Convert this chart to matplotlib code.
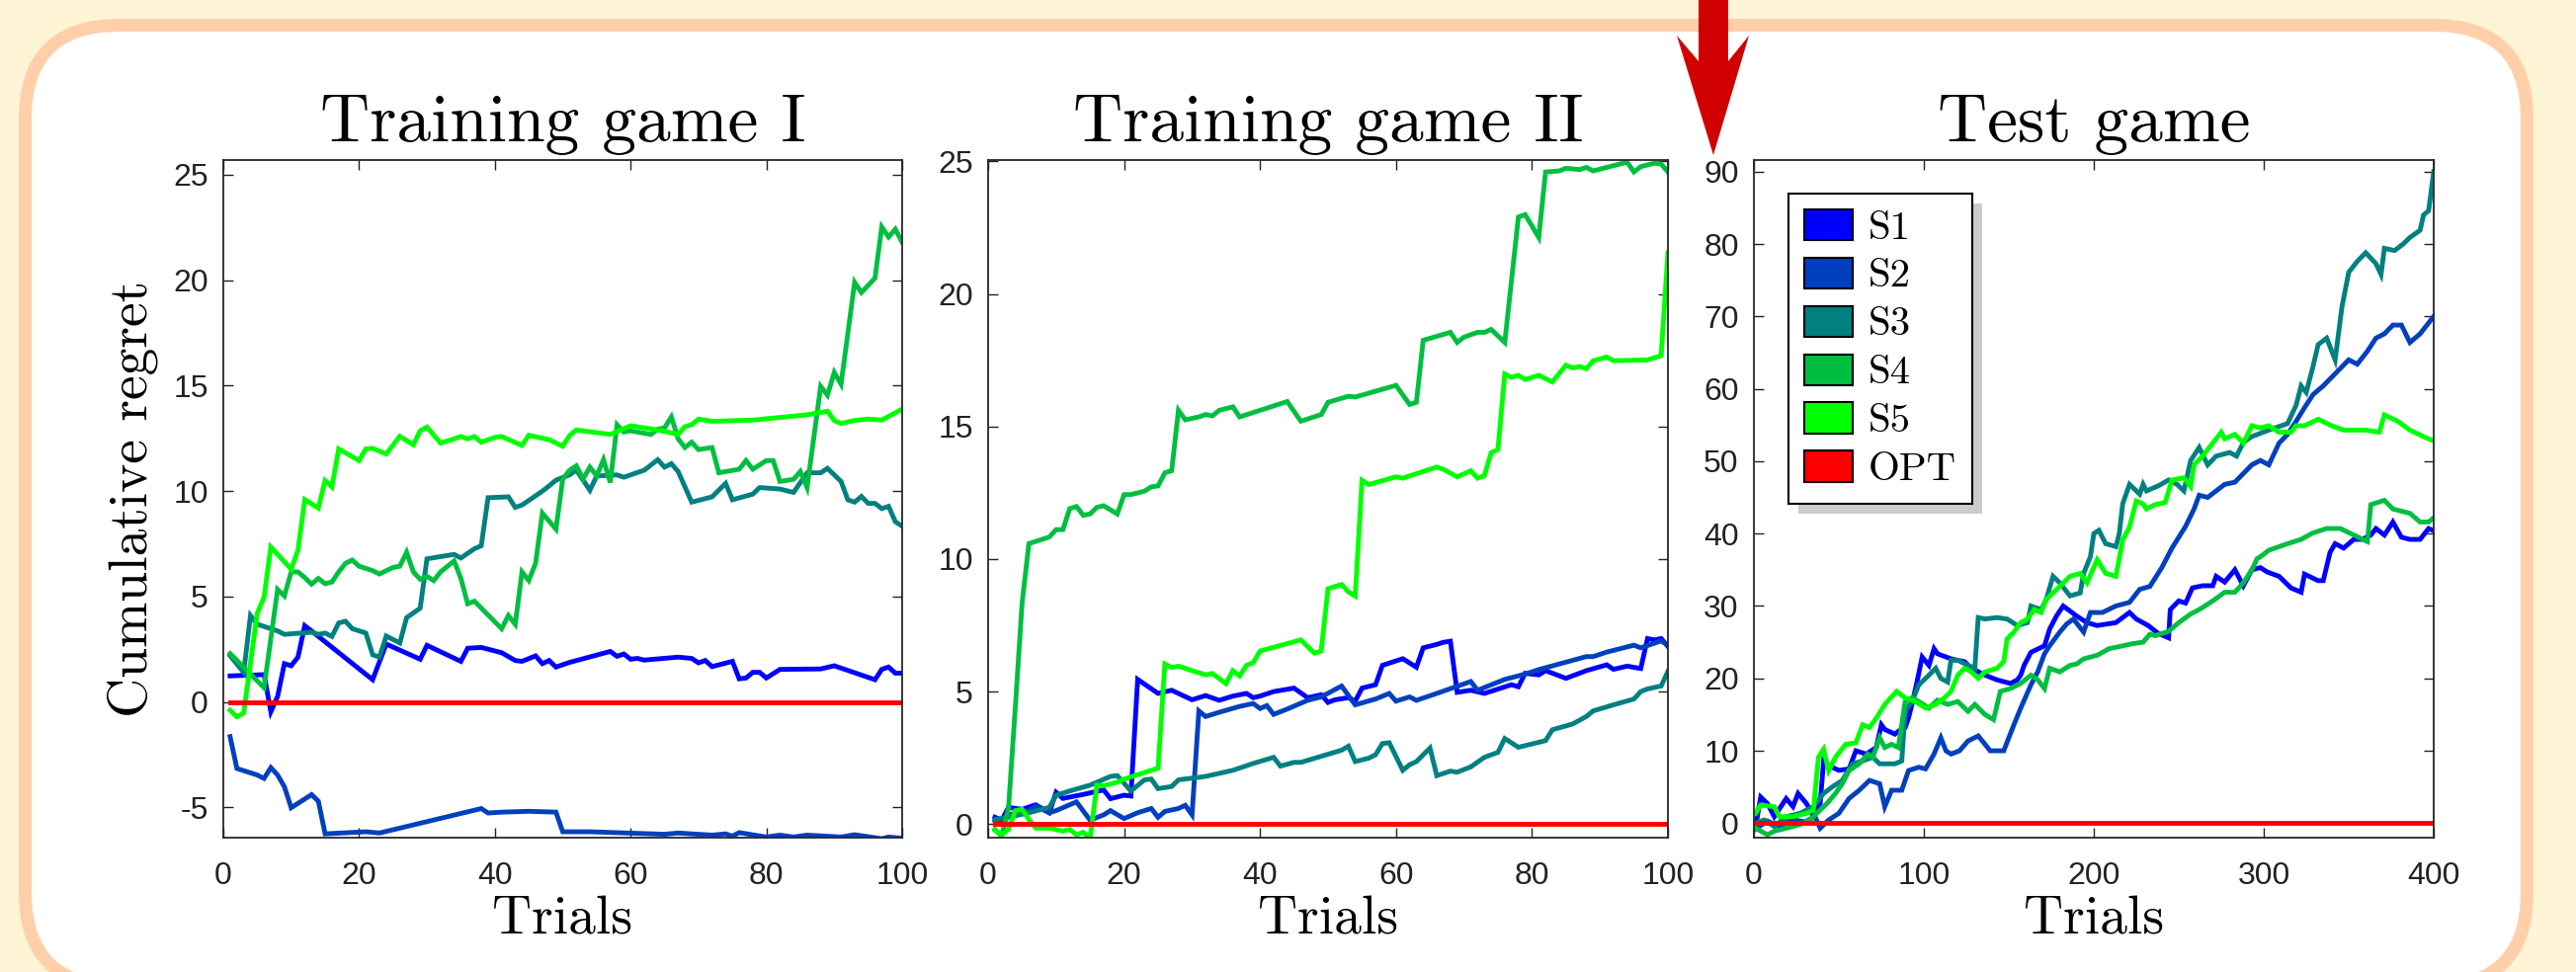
import matplotlib
matplotlib.use('Agg')
import matplotlib.pyplot as plt
from matplotlib.patches import FancyBboxPatch, Polygon, Rectangle, Patch
from matplotlib.transforms import IdentityTransform

# ---------------- data ----------------
names = ['S1', 'S2', 'S3', 'S4', 'S5', 'OPT']
colors = ['#0000FF', '#0040BF', '#008080', '#00BF40', '#00FF00', '#FF0000']

# Training game I
g1_s1_t = [1, 6, 7, 8, 9, 10, 11, 12, 13, 22, 24, 29, 30, 35, 36, 38, 41, 43, 44, 46, 47, 48, 49, 51, 57, 58, 59, 60,
           61, 62, 67, 69, 70, 71, 72, 75, 76, 77, 78, 79, 80, 82, 88, 90, 96, 97, 98, 99, 100]
g1_s1_v = [1.24, 1.30, -0.46, 0.27, 1.82, 1.72, 2.13, 3.62, 3.37, 1.06, 2.75, 2.03, 2.69, 1.93, 2.55, 2.59, 2.34, 1.97,
           1.93, 2.19, 1.82, 1.97, 1.66, 1.88, 2.40, 2.17, 2.28, 2.03, 2.07, 1.99, 2.13, 2.07, 1.86, 1.97, 1.68, 1.93,
           1.10, 1.14, 1.41, 1.41, 1.14, 1.55, 1.57, 1.72, 1.06, 1.55, 1.66, 1.37, 1.37]
g1_s2_t = [1, 2, 5, 6, 7, 8, 9, 10, 13, 14, 15, 21, 23, 38, 39, 41, 45, 49, 50, 54, 65, 67, 72, 74, 75, 76, 80, 82, 84,
           86, 91, 93, 97, 98, 100]
g1_s2_v = [-1.64, -3.15, -3.46, -3.62, -3.11, -3.46, -4.02, -5.01, -4.39, -4.70, -6.25, -6.15, -6.21, -5.05, -5.26,
           -5.22, -5.18, -5.22, -6.15, -6.15, -6.27, -6.21, -6.31, -6.25, -6.36, -6.19, -6.40, -6.31, -6.40, -6.31,
           -6.40, -6.29, -6.48, -6.40, -6.46]
g1_s3_t = [1, 2, 3, 4, 5, 8, 9, 13, 14, 15, 16, 17, 18, 19, 21, 22, 23, 24, 26, 27, 29, 30, 34, 35, 37, 38, 39, 42, 43,
           44, 47, 48, 49, 51, 52, 54, 55, 58, 59, 62, 64, 65, 66, 67, 69, 72, 74, 75, 78, 79, 82, 84, 86, 88, 89, 91,
           92, 93, 94, 95, 96, 97, 98, 99, 100]
g1_s3_v = [2.2, 1.8, 1.4, 4.10, 3.69, 3.37, 3.21, 3.31, 3.21, 3.27, 3.11, 3.75, 3.83, 3.48, 3.27, 2.24, 2.13, 3.13,
           2.80, 4.0, 4.45, 6.79, 7.0, 6.83, 7.27, 7.41, 9.69, 9.73, 9.23, 9.34, 10.0, 10.25, 10.52, 10.77, 11.0,
           10.04, 10.72, 10.77, 10.66, 10.99, 11.49, 11.14, 11.30, 10.93, 9.48, 9.73, 10.37, 9.59, 9.86, 10.17, 10.10,
           9.94, 10.87, 10.87, 11.08, 10.46, 9.59, 9.48, 9.75, 9.42, 9.42, 9.17, 9.28, 8.55, 8.34]
g1_s4_t = [1, 6, 8, 9, 10, 11, 12, 13, 14, 15, 16, 17, 18, 19, 20, 22, 23, 24, 25, 26, 27, 28, 29, 30, 31, 32, 34, 35,
           36, 37, 41, 42, 43, 44, 45, 46, 47, 49, 50, 51, 52, 53, 54, 55, 56, 57, 58, 59, 60, 63, 64, 65, 66, 67, 68,
           69, 70, 72, 73, 76, 77, 78, 80, 81, 82, 84, 85, 86, 88, 89, 90, 91, 93, 94, 96, 97, 98, 99, 100]
g1_s4_v = [2.30, 0.68, 5.34, 5.03, 6.17, 6.17, 5.90, 5.59, 5.86, 5.61, 5.69, 6.17, 6.58, 6.73, 6.44, 6.23, 6.07, 6.23,
           6.38, 6.44, 7.10, 6.17, 5.82, 5.96, 5.76, 6.17, 6.69, 5.86, 4.66, 4.78, 3.48, 4.10, 3.69, 6.17, 5.76, 6.58,
           8.96, 8.20, 10.56, 10.99, 11.20, 10.58, 11.14, 10.72, 11.49, 10.41, 13.15, 12.80, 12.86, 12.69, 12.94, 13.0,
           13.52, 12.48, 12.07, 12.32, 11.97, 12.07, 10.87, 11.04, 11.45, 11.04, 11.45, 11.45, 10.46, 10.56, 10.93,
           10.17, 14.97, 14.55, 15.63, 15.07, 19.90, 19.42, 20.10, 22.53, 22.05, 22.42, 21.80]
g1_s5_t = [1, 2, 3, 5, 6, 7, 10, 11, 12, 14, 15, 16, 17, 20, 21, 22, 24, 26, 28, 29, 30, 32, 34, 35, 36, 37, 38, 40,
           41, 44, 45, 48, 50, 51, 52, 57, 60, 64, 67, 68, 69, 70, 72, 78, 86, 88, 89, 90, 91, 93, 95, 97, 100]
g1_s5_v = [-0.39, -0.70, -0.52, 4.2, 4.97, 7.35, 6.3, 7.2, 9.6, 9.2, 10.5, 10.2, 12.0, 11.45, 12.0, 12.03, 11.76, 12.6,
           12.2, 12.86, 13.04, 12.28, 12.48, 12.59, 12.48, 12.59, 12.32, 12.55, 12.59, 12.17, 12.65, 12.44, 12.13,
           12.63, 12.9, 12.69, 13.1, 12.9, 12.69, 13.06, 13.15, 13.42, 13.31, 13.37, 13.62, 13.73, 13.79, 13.35, 13.21,
           13.35, 13.42, 13.37, 13.89]
g1_opt_t = [1, 100]
g1_opt_v = [0, 0]

# Training game II
g2_s1_t = [1, 2, 3, 5, 7, 9, 10, 11, 14, 17, 18, 20, 21, 22, 25, 27, 30, 32, 34, 36, 38, 39, 40, 42, 45, 47, 49, 50,
           51, 53, 54, 55, 57, 58, 61, 63, 64, 66, 67, 68, 69, 71, 73, 77, 78, 79, 81, 82, 85, 88, 91, 92, 94, 96, 97,
           98, 99, 100]
g2_s1_v = [0.26, 0.15, 0.63, 0.56, 0.73, 0.43, 1.20, 0.97, 1.12, 1.29, 0.96, 1.09, 1.06, 5.46, 4.93, 5.05, 4.69, 4.85,
           4.67, 4.83, 4.93, 4.77, 4.83, 5.0, 5.13, 4.77, 4.88, 4.59, 4.69, 4.77, 4.64, 5.13, 5.26, 5.99, 6.24, 5.92,
           6.65, 6.78, 6.86, 6.90, 4.97, 5.05, 4.93, 5.26, 5.18, 5.69, 5.63, 5.79, 5.50, 5.79, 6.01, 5.84, 5.96, 5.87,
           7.0, 6.95, 7.0, 6.70]
g2_s2_t = [1, 2, 3, 6, 7, 9, 10, 13, 15, 17, 18, 20, 22, 24, 25, 26, 28, 29, 30, 31, 32, 34, 37, 39, 40, 41, 42, 44,
           47, 49, 52, 54, 57, 59, 60, 62, 63, 66, 71, 72, 76, 79, 81, 88, 89, 91, 95, 96, 99, 100]
g2_s2_v = [0.10, 0.18, 0.35, 0.51, 0.68, 0.43, 0.51, 0.84, 0.15, 0.35, 0.51, 0.21, 0.43, 0.59, 0.26, 0.48, 0.59, 0.71,
           0.35, 4.27, 4.06, 4.22, 4.44, 4.55, 4.36, 4.47, 4.14, 4.34, 4.67, 4.80, 5.21, 4.50, 4.72, 4.93, 4.64, 4.80,
           4.67, 4.93, 5.38, 5.05, 5.46, 5.66, 5.83, 6.32, 6.32, 6.49, 6.75, 6.65, 6.91, 6.75]
g2_s3_t = [1, 3, 6, 9, 10, 12, 15, 18, 19, 21, 23, 24, 25, 27, 28, 32, 36, 39, 42, 43, 45, 46, 52, 53, 54, 56, 57, 58,
           59, 61, 62, 63, 65, 66, 68, 69, 71, 73, 75, 76, 78, 82, 83, 86, 88, 89, 92, 95, 96, 97, 99, 100]
g2_s3_v = [0.18, 0.26, 0.43, 0.63, 1.09, 1.25, 1.47, 1.80, 1.83, 1.25, 1.67, 1.70, 1.34, 1.42, 1.67, 1.80, 2.03, 2.29,
           2.52, 2.19, 2.33, 2.33, 2.79, 2.94, 2.36, 2.49, 2.62, 3.04, 3.07, 2.03, 2.24, 2.36, 2.87, 1.83, 2.0, 1.96,
           2.16, 2.52, 2.71, 3.23, 2.90, 3.15, 3.56, 3.78, 4.06, 4.27, 4.50, 4.72, 5.0, 5.10, 5.21, 5.76]
g2_s4_t = [1, 2, 3, 4, 5, 6, 9, 10, 11, 12, 13, 14, 15, 16, 17, 19, 20, 21, 23, 24, 25, 26, 27, 28, 29, 31, 32, 33,
           34, 36, 37, 44, 46, 49, 50, 53, 54, 60, 62, 63, 64, 68, 69, 70, 72, 73, 74, 76, 78, 79, 81, 82, 84, 85, 87,
           88, 89, 94, 95, 96, 98, 99, 100]
g2_s4_v = [-0.2, -0.45, 0.6, 4.4, 8.35, 10.58, 10.83, 11.11, 11.11, 11.90, 11.98, 11.65, 11.70, 11.95, 12.01, 11.70,
           12.43, 12.43, 12.56, 12.72, 12.76, 13.25, 13.33, 15.61, 15.25, 15.36, 15.45, 15.40, 15.61, 15.74, 15.36,
           15.94, 15.20, 15.45, 15.91, 16.14, 16.11, 16.55, 15.83, 15.91, 18.25, 18.55, 18.17, 18.37, 18.55, 18.55,
           18.66, 18.17, 22.90, 22.99, 22.13, 24.60, 24.64, 24.74, 24.69, 24.77, 24.64, 24.97, 24.60, 24.80, 24.93,
           24.90, 24.60]
g2_s5_t = [1, 2, 3, 4, 5, 6, 7, 9, 11, 12, 13, 14, 15, 16, 17, 19, 20, 25, 26, 27, 28, 30, 32, 33, 35, 36, 37, 38, 39,
           40, 46, 48, 49, 50, 52, 53, 54, 55, 56, 60, 61, 66, 67, 69, 71, 72, 73, 74, 75, 76, 77, 78, 79, 81, 83, 85,
           86, 87, 88, 89, 91, 92, 97, 99, 100]
g2_s5_v = [-0.23, -0.40, -0.2, 0.51, 0.56, 0.18, -0.15, -0.15, -0.26, -0.20, -0.40, -0.31, -0.53, 1.47, 1.45, 1.58,
           1.70, 2.11, 6.04, 5.91, 5.96, 5.79, 5.63, 5.68, 5.30, 5.79, 5.59, 5.99, 6.09, 6.53, 6.95, 6.45, 6.53, 8.88,
           9.04, 8.76, 8.60, 12.97, 12.81, 13.10, 13.05, 13.47, 13.38, 13.10, 13.33, 13.05, 13.14, 14.01, 14.13, 16.98,
           16.85, 16.93, 16.77, 16.93, 16.68, 17.31, 17.21, 17.26, 17.18, 17.48, 17.62, 17.48, 17.51, 17.67, 21.55]
g2_opt_t = [1, 100]
g2_opt_v = [0, 0]

# Test game
g3_s1_t = [1, 4, 8, 12, 19, 23, 26, 31, 34, 39, 41, 44, 50, 56, 60, 66, 72, 75, 77, 83, 85, 89, 91, 93, 96, 99, 103,
           106, 108, 116, 124, 128, 136, 143, 151, 155, 157, 159, 163, 171, 174, 178, 182, 190, 196, 202, 213, 221,
           225, 232, 238, 244, 245, 250, 254, 258, 264, 270, 272, 277, 283, 288, 293, 298, 302, 309, 316, 322, 324,
           332, 335, 339, 342, 347, 353, 358, 363, 366, 371, 376, 381, 386, 392, 397, 400]
g3_s1_v = [-0.5, 3.6, 2.7, 0.9, 3.4, 2.3, 4.1, 2.7, 1.4, 2.7, 8.6, 7.95, 7.3, 7.5, 10.0, 9.55, 10.45, 13.6, 12.95,
           12.3, 12.7, 13.2, 14.55, 16.4, 19.55, 22.95, 21.8, 24.1, 23.4, 22.7, 22.3, 21.4, 20.45, 19.8, 19.3, 19.8,
           20.45, 21.8, 23.6, 24.5, 26.8, 28.6, 30.0, 28.6, 27.7, 27.3, 27.7, 29.1, 28.2, 27.3, 26.2, 25.6, 29.5, 30.7,
           30.4, 32.5, 32.8, 32.8, 34.1, 33.3, 35.0, 32.8, 35.0, 35.3, 34.7, 34.1, 32.5, 31.9, 34.4, 33.5, 33.5, 37.4,
           38.6, 38.0, 39.2, 39.2, 39.8, 40.7, 39.8, 41.6, 39.5, 39.2, 39.2, 40.7, 40.4]
g3_s2_t = [1, 8, 15, 22, 30, 36, 39, 44, 50, 56, 62, 68, 74, 77, 81, 87, 91, 97, 101, 106, 110, 113, 116, 121, 126,
           132, 136, 139, 147, 153, 157, 163, 167, 171, 174, 180, 184, 188, 194, 198, 205, 213, 221, 227, 233, 240,
           246, 254, 259, 262, 267, 272, 277, 283, 288, 293, 298, 303, 309, 314, 319, 324, 329, 335, 340, 345, 350,
           355, 361, 366, 371, 376, 381, 386, 392, 400]
g3_s2_v = [-0.8, 0.3, -0.5, 0.5, 0.2, 0.9, -0.7, 0.45, 1.36, 3.41, 4.55, 5.91, 5.45, 2.27, 4.55, 4.55, 7.27, 7.73, 7.5,
           9.55, 11.8, 10.0, 9.55, 10.0, 11.36, 12.05, 10.9, 10.0, 10.0, 13.6, 15.9, 19.1, 20.9, 23.4, 24.5, 26.4,
           27.5, 28.2, 26.4, 29.1, 29.1, 30.0, 30.5, 32.3, 32.7, 35.3, 38.0, 41.0, 43.4, 45.3, 45.0, 45.9, 46.8, 47.1,
           48.3, 49.5, 50.1, 49.5, 52.5, 53.7, 55.5, 57.4, 59.2, 60.4, 61.6, 62.8, 64.0, 63.4, 65.2, 67.0, 67.6, 68.8,
           68.8, 66.4, 67.6, 70.0]
g3_s3_t = [1, 6, 12, 19, 27, 35, 41, 46, 52, 58, 64, 70, 74, 77, 83, 87, 89, 93, 97, 103, 107, 110, 114, 116, 120,
           126, 130, 132, 136, 143, 149, 155, 161, 163, 169, 172, 176, 180, 186, 192, 194, 198, 200, 203, 207, 213,
           215, 217, 221, 227, 229, 231, 238, 244, 249, 253, 257, 262, 267, 272, 280, 284, 288, 293, 303, 314, 319,
           322, 325, 329, 332, 337, 342, 346, 350, 355, 360, 366, 369, 371, 377, 382, 386, 392, 394, 397, 400]
g3_s3_v = [0.0, 0.45, -0.45, 0.9, 1.36, 2.27, 4.1, 5.0, 5.9, 8.2, 8.6, 9.1, 8.2, 8.2, 8.2, 8.6, 15.45, 16.8, 19.1,
           20.45, 21.4, 20.0, 19.5, 22.5, 22.5, 21.8, 21.4, 28.4, 28.2, 28.4, 28.2, 27.3, 27.7, 30.0, 29.5, 30.9, 34.1,
           33.2, 31.4, 31.8, 34.5, 36.8, 40.0, 40.45, 38.6, 38.2, 40.0, 44.1, 46.8, 45.45, 46.8, 45.9, 46.6, 47.4,
           46.8, 45.9, 50.1, 51.9, 49.5, 50.7, 51.2, 50.7, 52.6, 53.4, 54.3, 55.2, 57.7, 60.4, 59.5, 63.1, 66.1, 67.0,
           64.0, 71.3, 76.1, 77.6, 78.8, 77.3, 75.8, 79.4, 79.1, 80.0, 80.9, 81.9, 84.0, 84.6, 90.0]
g3_s4_t = [1, 8, 12, 19, 27, 33, 37, 43, 48, 52, 56, 62, 67, 70, 74, 77, 81, 85, 89, 93, 97, 103, 108, 114, 120, 126,
           130, 136, 141, 145, 151, 157, 163, 167, 171, 174, 180, 186, 190, 194, 202, 209, 217, 223, 229, 233, 236,
           244, 250, 257, 262, 270, 277, 283, 288, 293, 296, 298, 303, 314, 322, 329, 337, 345, 353, 361, 363, 371,
           376, 381, 386, 392, 397, 400]
g3_s4_v = [-0.7, -1.6, -1.1, -0.7, -0.2, 0.45, 1.36, 2.73, 4.1, 5.45, 7.27, 8.2, 9.55, 9.1, 11.8, 10.45, 10.9, 10.45,
           16.8, 17.3, 16.8, 15.9, 17.0, 16.4, 16.8, 15.45, 16.4, 15.0, 14.3, 18.2, 18.6, 19.3, 20.45, 19.8, 18.6,
           21.4, 20.9, 21.8, 22.0, 22.7, 23.2, 24.1, 24.5, 24.8, 25.0, 26.1, 25.9, 26.5, 27.7, 28.9, 29.5, 30.7, 31.9,
           31.9, 33.2, 35.0, 36.5, 36.8, 37.7, 38.6, 39.2, 40.1, 40.7, 40.7, 39.8, 38.9, 44.0, 44.6, 43.4, 43.1, 42.8,
           41.6, 41.6, 42.2]
g3_s5_t = [1, 4, 12, 15, 23, 31, 35, 38, 41, 44, 48, 54, 60, 64, 68, 72, 77, 84, 89, 95, 101, 107, 112, 116, 120, 124,
           128, 132, 136, 143, 147, 149, 153, 157, 161, 165, 169, 172, 176, 180, 186, 192, 196, 202, 207, 213, 217,
           221, 225, 229, 231, 236, 242, 246, 253, 257, 259, 264, 270, 275, 277, 283, 288, 293, 298, 303, 309, 316,
           319, 324, 332, 340, 347, 355, 360, 368, 371, 379, 386, 394, 400]
g3_s5_v = [1.36, 2.5, 2.27, 0.9, 0.9, 1.36, 1.8, 9.1, 10.2, 7.27, 9.1, 10.9, 11.1, 13.6, 13.2, 14.5, 16.4, 18.2, 17.3,
           16.8, 15.9, 16.4, 17.3, 18.2, 20.45, 21.4, 20.9, 20.0, 20.9, 21.4, 22.3, 25.45, 26.4, 27.7, 28.2, 29.5,
           29.1, 30.9, 31.8, 32.7, 34.1, 34.5, 33.2, 36.4, 34.5, 34.1, 39.1, 40.9, 44.5, 44.1, 43.4, 44.0, 44.3, 47.4,
           47.7, 46.5, 49.5, 50.7, 52.5, 54.0, 53.1, 53.7, 52.5, 54.9, 54.6, 54.9, 54.0, 54.0, 54.9, 54.9, 55.8, 54.9,
           54.3, 54.3, 54.3, 54.0, 56.4, 55.5, 54.3, 53.4, 52.8]
g3_opt_t = [1, 400]
g3_opt_v = [0, 0]

titles = ['Training game I', 'Training game II', 'Test game']
xlims = [(0, 100), (0, 100), (0, 400)]
ylims = [(-6.43, 25.7), (-0.51, 25.05), (-2.0, 91.6)]
xticks = [range(0, 101, 20), range(0, 101, 20), range(0, 401, 100)]
yticks = [range(-5, 26, 5), range(0, 26, 5), range(0, 91, 10)]

series = [
    [(g1_s1_t, g1_s1_v), (g1_s2_t, g1_s2_v), (g1_s3_t, g1_s3_v), (g1_s4_t, g1_s4_v), (g1_s5_t, g1_s5_v),
     (g1_opt_t, g1_opt_v)],
    [(g2_s1_t, g2_s1_v), (g2_s2_t, g2_s2_v), (g2_s3_t, g2_s3_v), (g2_s4_t, g2_s4_v), (g2_s5_t, g2_s5_v),
     (g2_opt_t, g2_opt_v)],
    [(g3_s1_t, g3_s1_v), (g3_s2_t, g3_s2_v), (g3_s3_t, g3_s3_v), (g3_s4_t, g3_s4_v), (g3_s5_t, g3_s5_v),
     (g3_opt_t, g3_opt_v)],
]

# ---------------- figure ----------------
plt.rcParams['axes.unicode_minus'] = False
plt.rcParams['font.family'] = ['Liberation Sans', 'DejaVu Sans']

W, H = 2607, 984
fig = plt.figure(figsize=(W / 100, H / 100), dpi=100, facecolor='#FFF5D6')

# rounded white panel with peach border (pixel coords)
border = 13
panel = FancyBboxPatch((19 + border / 2, -21 + border / 2), 2564 - 19 - border, 984 - 19 + 21 - border,
                       boxstyle='round,pad=0,rounding_size=95', transform=IdentityTransform(),
                       facecolor='white', edgecolor='#FFCFAA', linewidth=border * 0.72, zorder=-5)
fig.add_artist(panel)

# red arrow pointing at the test game
arrow_pts = [(1719, -5), (1719, 62), (1697, 36), (1734, 157), (1770, 36), (1749, 62), (1749, -5)]
arrow = Polygon([(x, H - y) for x, y in arrow_pts], closed=True, transform=IdentityTransform(),
                facecolor='#D00000', edgecolor='none', zorder=3)
fig.add_artist(arrow)

lefts = [226, 1000, 1775]
widths = [687, 688, 688]
top, bottom = 162, 848

axes = []
for i in range(3):
    ax = fig.add_axes([lefts[i] / W, (H - bottom) / H, widths[i] / W, (bottom - top) / H])
    ax.set_facecolor('none')
    for (t, v), c in zip(series[i], colors):
        ax.plot(t, v, color=c, lw=3.5, solid_joinstyle='miter')
    ax.set_xlim(*xlims[i])
    ax.set_ylim(*ylims[i])
    ax.set_xticks(list(xticks[i]))
    ax.set_yticks(list(yticks[i]))
    ax.tick_params(direction='in', top=True, right=True, length=7, width=1.0, labelsize=23, colors='#222222')
    ax.tick_params(axis='x', pad=17)
    ax.tick_params(axis='y', pad=11)
    for sp in ax.spines.values():
        sp.set_linewidth(1.3)
        sp.set_color('#262626')
    ax.set_title(titles[i], fontsize=50, family='cmr10', pad=13.7)
    ax.set_xlabel('Trials', fontsize=40, family='cmr10')
    ax.xaxis.set_label_coords(0.5, -0.086)
    axes.append(ax)

axes[0].set_ylabel('Cumulative regret', fontsize=40, family='cmr10')
axes[0].yaxis.set_label_coords(-0.096, 0.5)

handles = [Patch(facecolor=c, edgecolor='black', linewidth=1.5) for c in colors]
leg = axes[2].legend(handles, names, loc='upper left', bbox_to_anchor=(0.0509, 0.9504), borderaxespad=0,
                     prop={'family': 'cmr10', 'size': 29.5}, fancybox=False, framealpha=1, edgecolor='black',
                     handlelength=1.2, handleheight=0.8, handletextpad=0.4, labelspacing=0.27, borderpad=0.38)
leg.get_frame().set_linewidth(1.5)

# gray drop shadow behind the legend
fig.canvas.draw()
bb = leg.get_window_extent()
shadow = Rectangle((bb.x0 + 10, bb.y0 - 10), bb.width, bb.height, transform=IdentityTransform(),
                   facecolor='#CCCCCC', edgecolor='none', zorder=4.9)
axes[2].add_artist(shadow)

fig.savefig('out.png', dpi=100, facecolor=fig.get_facecolor())
